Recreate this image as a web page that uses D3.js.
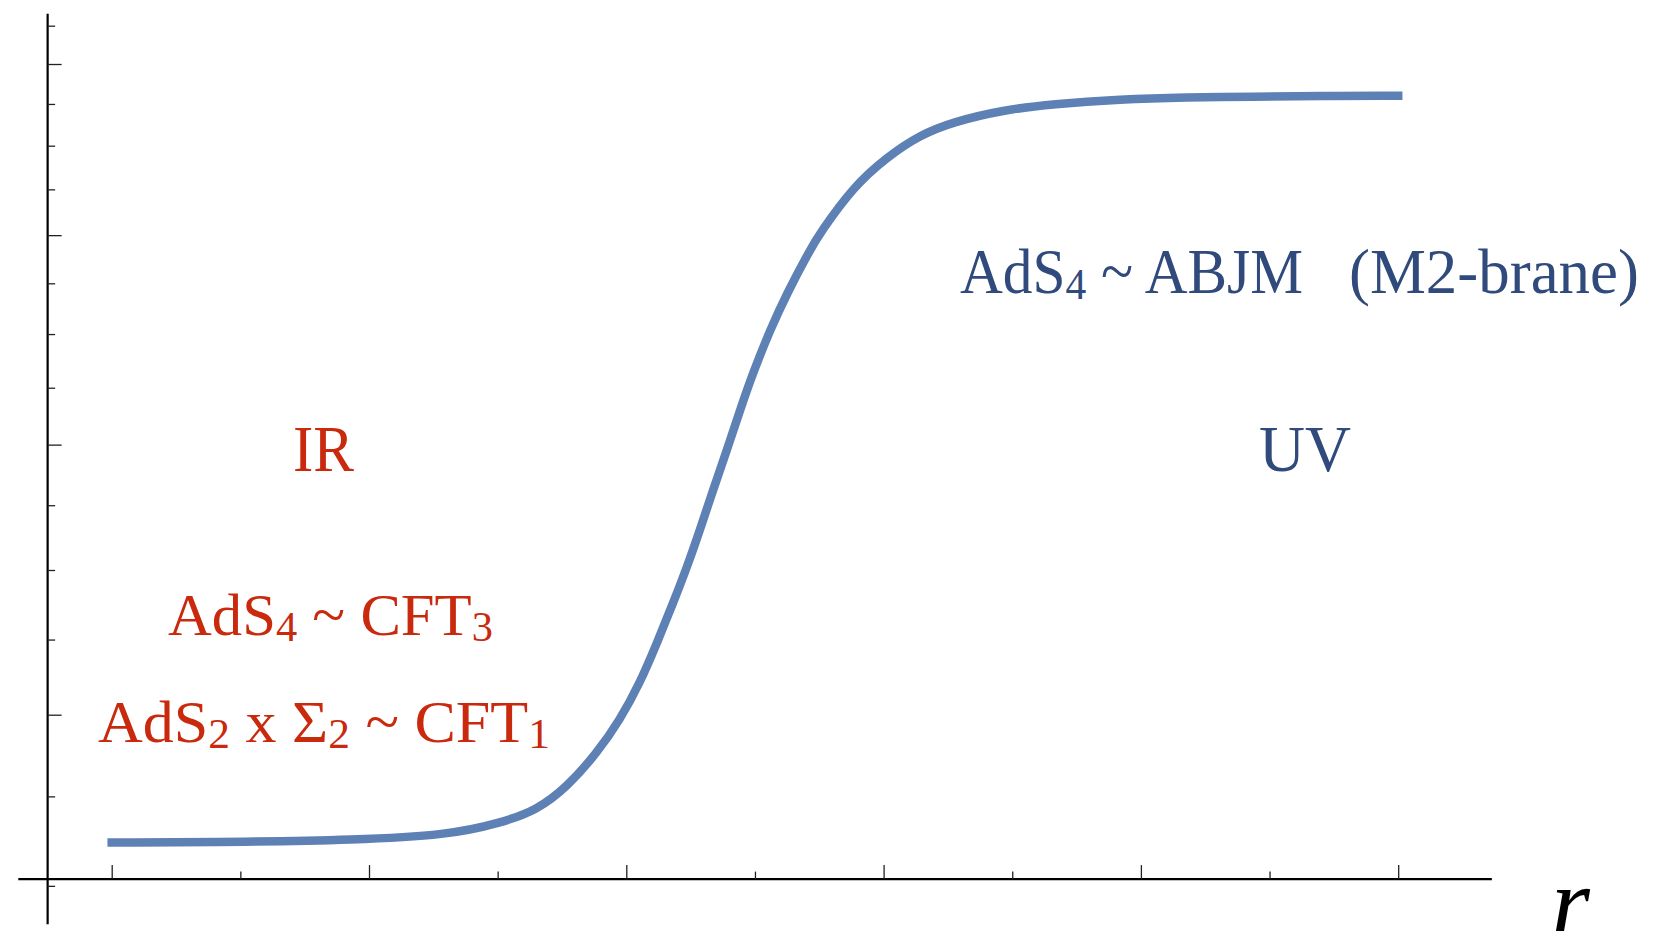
<!DOCTYPE html>
<html>
<head>
<meta charset="utf-8">
<script src="https://cdn.jsdelivr.net/npm/d3@7"></script>
<style>
  body { margin: 0; background: #fff; }
  svg { display: block; }
</style>
</head>
<body>
<script>
// curve: r on the horizontal axis, log-scaled value on the vertical
const rVals = [0, 0.54, 0.93, 1.31, 1.51, 1.653, 1.770, 1.886, 1.975, 2.053, 2.119,
  2.182, 2.236, 2.286, 2.337, 2.391, 2.442, 2.492, 2.559, 2.625, 2.714, 2.753, 2.881,
  3.013, 3.141, 3.270, 3.464, 3.658, 3.919, 4.179, 4.436, 4.696, 5.0];
const fVals = [2.618, 2.62, 2.625, 2.639, 2.673, 2.71, 2.778, 2.88, 2.983, 3.103, 3.238,
  3.379, 3.511, 3.652, 3.811, 3.977, 4.15, 4.317, 4.52, 4.701, 4.922, 5.011, 5.263,
  5.434, 5.563, 5.641, 5.713, 5.75, 5.779, 5.791, 5.795, 5.799, 5.8];

const xMajor = [0, 1, 2, 3, 4, 5];
const xMinor = [0.5, 1.5, 2.5, 3.5, 4.5];
const yMajor = [3, 4, 5, 6];
const yMinor = [2.5, 2.75, 3.25, 3.5, 3.75, 4.25, 4.5, 4.75, 5.25, 5.5, 5.75, 6.25];

const xExtent = [-0.363, 5.364];
const yExtent = [2.40, 6.33];
const xCross = -0.249;   // where the vertical axis sits
const yCross = 2.518;    // where the horizontal axis sits

const red = "#c92a0e", blue = "#2f4a7b";

const svg = d3.select("body").append("svg")
    .attr("width", 1668)
    .attr("height", 931);

const x = d3.scaleLinear().domain([0, 5]).range([111.7, 1398.2]);
const y = d3.scaleLog().domain([3, 6]).range([714.7, 64]);

// axis lines
svg.append("line")
    .attr("x1", x(xExtent[0])).attr("x2", x(xExtent[1]))
    .attr("y1", y(yCross)).attr("y2", y(yCross))
    .style("stroke", "#000").style("stroke-width", 2.2);
svg.append("line")
    .attr("x1", x(xCross)).attr("x2", x(xCross))
    .attr("y1", y(yExtent[0])).attr("y2", y(yExtent[1]))
    .style("stroke", "#000").style("stroke-width", 2.2);

// ticks
function ticks(axis, tr) {
  const g = svg.append("g").attr("transform", tr).call(axis);
  g.select(".domain").remove();
  g.selectAll(".tick line").style("stroke", "#222").style("stroke-width", 1.3);
}
ticks(d3.axisTop(x).tickValues(xMajor).tickSize(14).tickFormat(""), `translate(0,${y(yCross)})`);
ticks(d3.axisTop(x).tickValues(xMinor).tickSize(7.5).tickFormat(""), `translate(0,${y(yCross)})`);
ticks(d3.axisRight(y).tickValues(yMajor).tickSize(14).tickFormat(""), `translate(${x(xCross)},0)`);
ticks(d3.axisRight(y).tickValues(yMinor).tickSize(7.5).tickFormat(""), `translate(${x(xCross)},0)`);

// the curve (b-spline to smooth out reading noise)
const line = d3.line()
    .x((d, i) => x(rVals[i]))
    .y((d, i) => y(fVals[i]))
    .curve(d3.curveBasis);
svg.append("path")
    .attr("d", line(rVals))
    .style("fill", "none")
    .style("stroke", "#5e81b5")
    .style("stroke-width", 8.5)
    .style("stroke-linecap", "square");

// labels: parts are [text, isSubscript]
function label(parts, x0, x1, base, size, color) {
  const t = svg.append("text")
      .attr("x", 0).attr("y", 0)
      .style("font-family", "'Liberation Serif', 'DejaVu Serif', serif")
      .style("font-size", size + "px")
      .style("fill", color);
  let shifted = false;
  parts.forEach(([s, sub]) => {
    const ts = t.append("tspan").text(s);
    if (sub && !shifted) { ts.attr("dy", size * 0.1).style("font-size", (size * 0.7) + "px"); shifted = true; }
    else if (sub) { ts.style("font-size", (size * 0.7) + "px"); }
    else if (shifted) { ts.attr("dy", -size * 0.1); shifted = false; }
  });
  const w = t.node().getComputedTextLength();
  t.attr("transform", `translate(${x0},${base}) scale(${(x1 - x0) / w},1)`);
}

label([["AdS"], ["4", true], [" ~ ABJM"]], 960, 1303, 293, 63, blue);
label([["(M2-brane)"]], 1349, 1639, 293, 63, blue);
label([["UV"]], 1259, 1351, 471, 66, blue);
label([["IR"]], 293, 354, 471, 66, red);
label([["AdS"], ["4", true], [" ~ CFT"], ["3", true]], 168, 493, 635, 60, red);
label([["AdS"], ["2", true], [" x Σ"], ["2", true], [" ~ CFT"], ["1", true]], 98, 550, 742, 60, red);

svg.append("text")
    .attr("x", 1551).attr("y", 936)
    .style("font-family", "'Liberation Serif', serif")
    .style("font-style", "italic")
    .style("font-size", "100px")
    .style("fill", "#000")
    .text("r");
</script>
</body>
</html>
